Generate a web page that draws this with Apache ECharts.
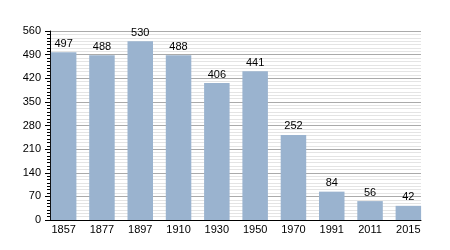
<!DOCTYPE html>
<html><head><meta charset="utf-8">
<script src="https://cdn.jsdelivr.net/npm/echarts@6/dist/echarts.min.js"></script>
<style>html,body{margin:0;padding:0;background:#fff}#c{width:450px;height:250px}</style>
</head><body><div id="c"></div>
<script>
var categories = ['1857','1877','1897','1910','1930','1950','1970','1991','2011','2015'];
var population = [497,488,530,488,406,441,252,84,56,42];
var yMin = 0, yMax = 560, yStep = 70;

var chart = echarts.init(document.getElementById('c'), null, {renderer:'canvas'});
var font = 'Liberation Sans, Arial, sans-serif';
chart.setOption({
  animation:false,
  grid:[
    {left:50, right:29, top:31, bottom:30},
    {left:44.5, width:383, top:31, bottom:30}
  ],
  xAxis:[
    {gridIndex:0, type:'category', data:categories, show:true,
     axisLine:{show:true, lineStyle:{color:'#000', width:1}}, axisTick:{show:false}, axisLabel:{show:false}, splitLine:{show:false}},
    {gridIndex:1, type:'category', data:categories,
     axisLine:{show:false}, axisTick:{show:false},
     axisLabel:{color:'#000', fontSize:11, fontFamily:font, margin:4}}
  ],
  yAxis:[
    {gridIndex:0, type:'value', min:yMin, max:yMax, interval:yStep,
     axisLine:{show:true, lineStyle:{color:'#000'}},
     axisTick:{show:true, length:5, lineStyle:{color:'#000'}},
     minorTick:{show:true, splitNumber:7, length:3, lineStyle:{color:'#000'}},
     axisLabel:{color:'#000', fontSize:11, fontFamily:font, margin:9},
     splitLine:{show:true, lineStyle:{color:'#aaa', width:1}},
     minorSplitLine:{show:true, lineStyle:{color:'#e4e4e4', width:1}}},
    {gridIndex:1, type:'value', min:yMin, max:yMax, interval:yStep, show:false, splitLine:{show:false}}
  ],
  series:[{
    type:'bar', xAxisIndex:1, yAxisIndex:1, data:population, barWidth:25.5,
    itemStyle:{color:'#9ab3cf'},
    label:{show:true, position:'top', distance:3, color:'#000', fontSize:11, fontFamily:font}
  }]
});
</script></body></html>
